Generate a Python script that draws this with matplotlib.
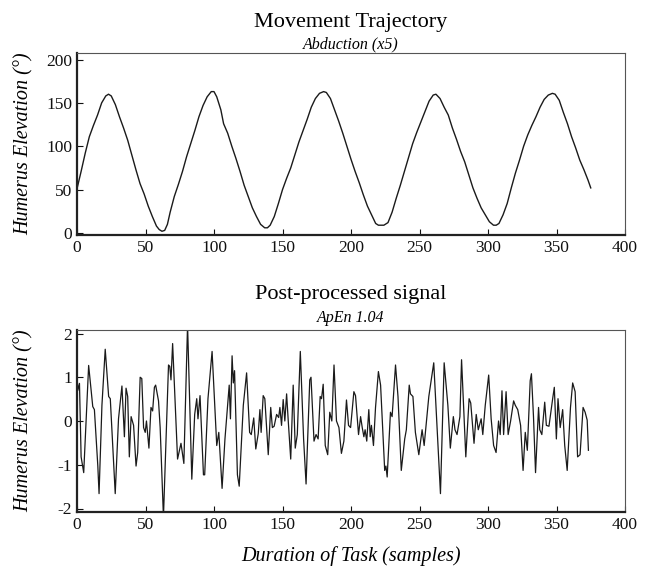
import matplotlib
matplotlib.use("Agg")
import matplotlib.pyplot as plt

# ---- Top panel: movement trajectory (samples, degrees) ----
top_x = [0, 3, 6, 9, 12, 15, 18, 21, 23, 25, 28, 31, 34, 37, 40, 43, 46, 49, 52, 55, 58, 60, 62, 64, 66, 68,
         71, 74, 77, 80, 83, 86, 89, 92, 95, 98, 100, 102, 105, 107, 110, 113, 116, 119, 122, 125, 128, 131,
         134, 137, 139, 141, 144, 147, 150, 153, 156, 159, 162, 165, 168, 171, 174, 177, 180, 182, 185, 188,
         191, 194, 197, 200, 203, 206, 209, 212, 215, 218, 220, 224, 227, 230, 233, 236, 239, 242, 245, 248,
         251, 254, 257, 260, 262, 265, 268, 271, 274, 277, 280, 283, 286, 289, 292, 295, 298, 301, 304, 306,
         308, 311, 314, 317, 320, 323, 326, 329, 332, 335, 338, 341, 344, 347, 349, 352, 355, 358, 361, 364,
         367, 370, 373, 375]
top_y = [51, 71, 92, 111, 124, 136, 150, 158, 160, 158, 148, 134, 121, 107, 90, 73, 57, 45, 31, 19, 8, 4, 2, 3,
         10, 24, 42, 56, 71, 88, 103, 118, 134, 147, 157, 163, 163, 157, 142, 126, 115, 100, 86, 71, 55, 42, 29,
         19, 10, 6, 6, 9, 19, 34, 50, 63, 75, 90, 105, 118, 131, 145, 155, 161, 163, 162, 155, 142, 129, 115,
         100, 85, 71, 58, 44, 31, 21, 11, 9, 9, 12, 24, 40, 55, 71, 87, 103, 116, 128, 140, 152, 159, 160, 155,
         145, 136, 121, 108, 94, 82, 67, 52, 40, 29, 21, 13, 9, 9, 11, 21, 34, 52, 69, 84, 100, 113, 124, 134,
         145, 154, 159, 161, 160, 153, 139, 126, 111, 98, 84, 73, 61, 52]

# ---- Bottom panel: post-processed signal ----
bot_x = [0, 0.6, 1.8, 3.0, 4.9, 8.5, 11.5, 12.7, 15.2, 16.1, 18.2, 20.6, 23.1, 24.3, 25.8, 27.9, 30.3, 32.8,
         34.6, 35.8, 37.0, 38.2, 39.5, 41.3, 43.1, 44.3, 46.1, 47.3, 48.6, 49.8, 50.7, 52.5, 54.0, 55.2, 56.5,
         57.4, 59.5, 60.7, 63.1, 66.8, 67.7, 68.6, 69.8, 73.4, 75.9, 78.0, 80.7, 83.8, 85.9, 87.4, 88.3, 89.8,
         92.3, 93.2, 95.6, 98.6, 102.0, 103.5, 105.9, 108.0, 111.1, 112.0, 113.2, 114.1, 115.0, 117.1, 118.4,
         121.4, 123.8, 126.0, 127.2, 129.0, 130.5, 132.3, 133.5, 134.4, 135.9, 137.1, 139.6, 141.4, 142.6,
         143.9, 145.7, 147.2, 148.1, 149.3, 150.5, 151.7, 153.0, 154.2, 156.0, 157.8, 159.3, 160.8, 163.0,
         165.4, 167.2, 169.9, 170.8, 173.0, 174.5, 176.0, 177.5, 178.5, 179.7, 181.2, 183.0, 184.5, 186.0,
         187.6, 189.4, 191.2, 193.0, 194.8, 196.7, 198.2, 199.7, 202.1, 203.3, 205.5, 207.0, 208.2, 209.4,
         210.3, 211.5, 213.0, 214.0, 214.9, 216.4, 217.9, 220.0, 221.6, 223.7, 224.6, 225.5, 226.4, 228.8,
         230.0, 232.5, 234.3, 236.7, 239.2, 240.4, 242.5, 243.4, 245.2, 247.0, 249.5, 251.9, 253.4, 256.8,
         260.4, 263.4, 265.3, 268.0, 270.7, 272.5, 274.7, 275.9, 277.4, 279.5, 280.7, 282.2, 283.8, 286.2,
         287.4, 289.8, 291.4, 292.9, 295.0, 296.2, 298.0, 300.5, 302.3, 304.1, 305.9, 307.7, 308.9, 310.2,
         311.4, 313.2, 314.7, 316.5, 318.7, 319.9, 321.7, 323.8, 325.6, 327.2, 328.7, 330.8, 331.7, 333.2,
         334.7, 336.9, 337.8, 339.3, 341.4, 342.6, 344.5, 347.2, 348.4, 349.9, 351.1, 352.7, 354.5, 356.0,
         357.8, 360.2, 361.8, 363.6, 365.4, 367.2, 369.4, 370.9, 372.4, 373.3]
bot_y = [1.05, 0.7, 0.86, -0.82, -1.18, 1.27, 0.33, 0.26, -1.03, -1.66, 0.36, 1.64, 0.56, 0.51, -0.41, -1.66,
         0.05, 0.8, -0.36, 0.75, 0.56, -0.82, 0.1, -0.1, -1.03, -0.72, 1.0, 0.97, -0.15, -0.26, 0.0, -0.62,
         0.31, 0.23, 0.77, 0.82, 0.46, -0.15, -2.2, 1.28, 1.25, 0.94, 1.77, -0.87, -0.51, -0.97, 2.2, -1.33,
         0.15, 0.51, 0.05, 0.58, -1.23, -1.23, 0.51, 1.59, -0.56, -0.26, -1.54, -0.41, 0.82, 0.05, 1.49, 0.87,
         1.15, -1.23, -1.49, 0.36, 1.1, -0.26, -0.31, 0.07, -0.64, -0.29, 0.26, -0.26, 0.58, 0.51, -0.77, 0.31,
         -0.15, -0.12, 0.15, 0.08, 0.31, -0.1, 0.49, 0.0, 0.62, 0.0, -0.87, 0.82, -0.62, -0.31, 1.59, -0.41,
         -1.44, 0.94, 1.0, -0.46, -0.31, -0.41, 0.56, 0.51, 0.84, -0.56, -0.77, 0.2, 0.0, 1.28, 0.0, -0.15,
         -0.74, -0.46, 0.48, -0.1, -0.15, 0.67, 0.58, -0.31, 0.1, -0.15, -0.36, -0.2, -0.46, 0.26, -0.36, -0.1,
         -0.56, 0.31, 1.13, 0.82, -0.51, -1.13, -1.03, -1.28, 0.2, 0.1, 1.28, 0.56, -1.13, -0.41, -0.2, 0.82,
         0.62, 0.56, -0.26, -0.77, -0.2, -0.56, 0.56, 1.33, -0.51, -1.66, 1.33, 0.36, -0.62, 0.1, -0.2, -0.31,
         0.1, 1.4, 0.31, -0.82, 0.51, 0.41, -0.51, 0.15, -0.2, 0.05, -0.31, 0.36, 1.05, 0.05, -0.56, -0.72, 0.0,
         -0.31, 0.69, -0.31, 0.67, -0.31, 0.0, 0.46, 0.36, 0.26, -0.1, -1.13, -0.26, -0.67, 0.92, 1.08, 0.1,
         -1.18, 0.31, -0.2, -0.31, 0.43, -0.1, -0.12, 0.51, 0.77, -0.41, 0.51, -0.15, 0.26, -0.56, -1.13, 0.31,
         0.87, 0.67, -0.82, -0.77, 0.31, 0.2, 0.02, -0.67]

x_ticks = [0, 50, 100, 150, 200, 250, 300, 350, 400]
top_yticks = [0, 50, 100, 150, 200]
bot_yticks = [-2, -1, 0, 1, 2]

SERIF = ["Liberation Serif", "DejaVu Serif"]
plt.rcParams["font.family"] = SERIF
plt.rcParams["axes.unicode_minus"] = False

W, H = 651, 568
fig = plt.figure(figsize=(W / 100, H / 100), dpi=100)

def px_axes(left, top, right, bottom):
    return fig.add_axes([left / W, 1 - bottom / H, (right - left) / W, (bottom - top) / H])

ax1 = px_axes(77, 53, 625, 235)
ax2 = px_axes(77, 330, 625, 512)

line_col = "#1a1a1a"
for ax in (ax1, ax2):
    ax.set_xlim(0, 400)
    ax.set_xticks(x_ticks)
    ax.tick_params(direction="in", length=4, width=0.8, labelsize=12.5, pad=3.5, colors="#111111")
    for s in ("left", "bottom"):
        ax.spines[s].set_linewidth(1.6)
        ax.spines[s].set_color("#222222")
    for s in ("top", "right"):
        ax.spines[s].set_linewidth(0.8)
        ax.spines[s].set_color("#555555")
    ax.set_ylabel("Humerus Elevation (°)", fontsize=14.5, style="italic", va="center")
    ax.yaxis.set_label_coords((24 - 77) / 548, 0.5)

ax1.plot(top_x, top_y, color=line_col, lw=1.0)
ax1.set_ylim(-2.3, 207.5)
ax1.set_yticks(top_yticks)

ax2.plot(bot_x, bot_y, color=line_col, lw=0.9)
ax2.set_ylim(-2.08, 2.08)
ax2.set_yticks(bot_yticks)

fig.text(351 / W, 1 - 22 / H, "Movement Trajectory", ha="center", va="center", fontsize=16)
fig.text(351 / W, 1 - 44.5 / H, "Abduction (x5)", ha="center", va="center", fontsize=11.5, style="italic")
fig.text(351 / W, 1 - 295 / H, "Post-processed signal", ha="center", va="center", fontsize=16)
fig.text(351 / W, 1 - 318.5 / H, "ApEn 1.04", ha="center", va="center", fontsize=11.5, style="italic")
fig.text(351 / W, 1 - 556 / H, "Duration of Task (samples)", ha="center", va="center", fontsize=14.5,
         style="italic")

fig.savefig("out.png", dpi=100)
